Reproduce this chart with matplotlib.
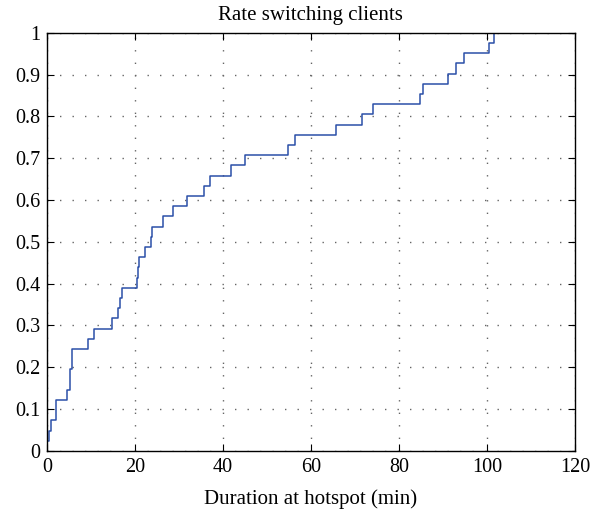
import numpy as np
import matplotlib
matplotlib.use('Agg')
import matplotlib.pyplot as plt

plt.rcParams['font.family'] = ['Liberation Serif', 'DejaVu Serif']

# Durations (min) of the rate switching clients, sorted
durations = [0.1, 0.5, 0.9, 2.0, 2.0, 4.6, 5.2, 5.2, 5.75, 5.75,
             9.3, 10.8, 14.7, 16.2, 16.7, 17.1, 20.4, 20.6, 20.9, 22.3,
             23.6, 23.8, 26.4, 28.7, 31.75, 35.75, 37.1, 41.75, 45.1, 54.9,
             56.4, 65.8, 71.7, 74.2, 84.8, 85.4, 91.1, 93.0, 94.7, 100.5,
             101.5]
x_ticks = [0, 20, 40, 60, 80, 100, 120]
y_ticks = [0, 0.1, 0.2, 0.3, 0.4, 0.5, 0.6, 0.7, 0.8, 0.9, 1]
y_tick_labels = ['0', '0.1', '0.2', '0.3', '0.4', '0.5', '0.6', '0.7', '0.8', '0.9', '1']

xs = np.sort(np.array(durations))
cdf = np.arange(1, len(xs) + 1) / len(xs)

fig = plt.figure(figsize=(6.02, 5.13), dpi=100)
ax = fig.add_axes([0.078, 0.121, 0.877, 0.815])

# empirical CDF as a staircase
ax.step(np.r_[xs[0], xs], np.r_[0, cdf], where='post', color='#2b4fa8', linewidth=1.1)

ax.set_xlim(0, 120)
ax.set_ylim(0, 1)
ax.set_xticks(x_ticks)
ax.set_yticks(y_ticks)
ax.set_yticklabels(y_tick_labels)
ax.tick_params(direction='in', top=True, right=True, labelsize=14.5, length=5, width=0.8, pad=5)
ax.grid(True, color='#666666', linestyle=(0, (1, 8)), linewidth=1.0)
for s in ax.spines.values():
    s.set_linewidth(1.0)

ax.set_title('Rate switching clients', fontsize=15, pad=9)
ax.set_xlabel('Duration at hotspot (min)', fontsize=15, labelpad=9)

fig.savefig('out.png', dpi=100)
